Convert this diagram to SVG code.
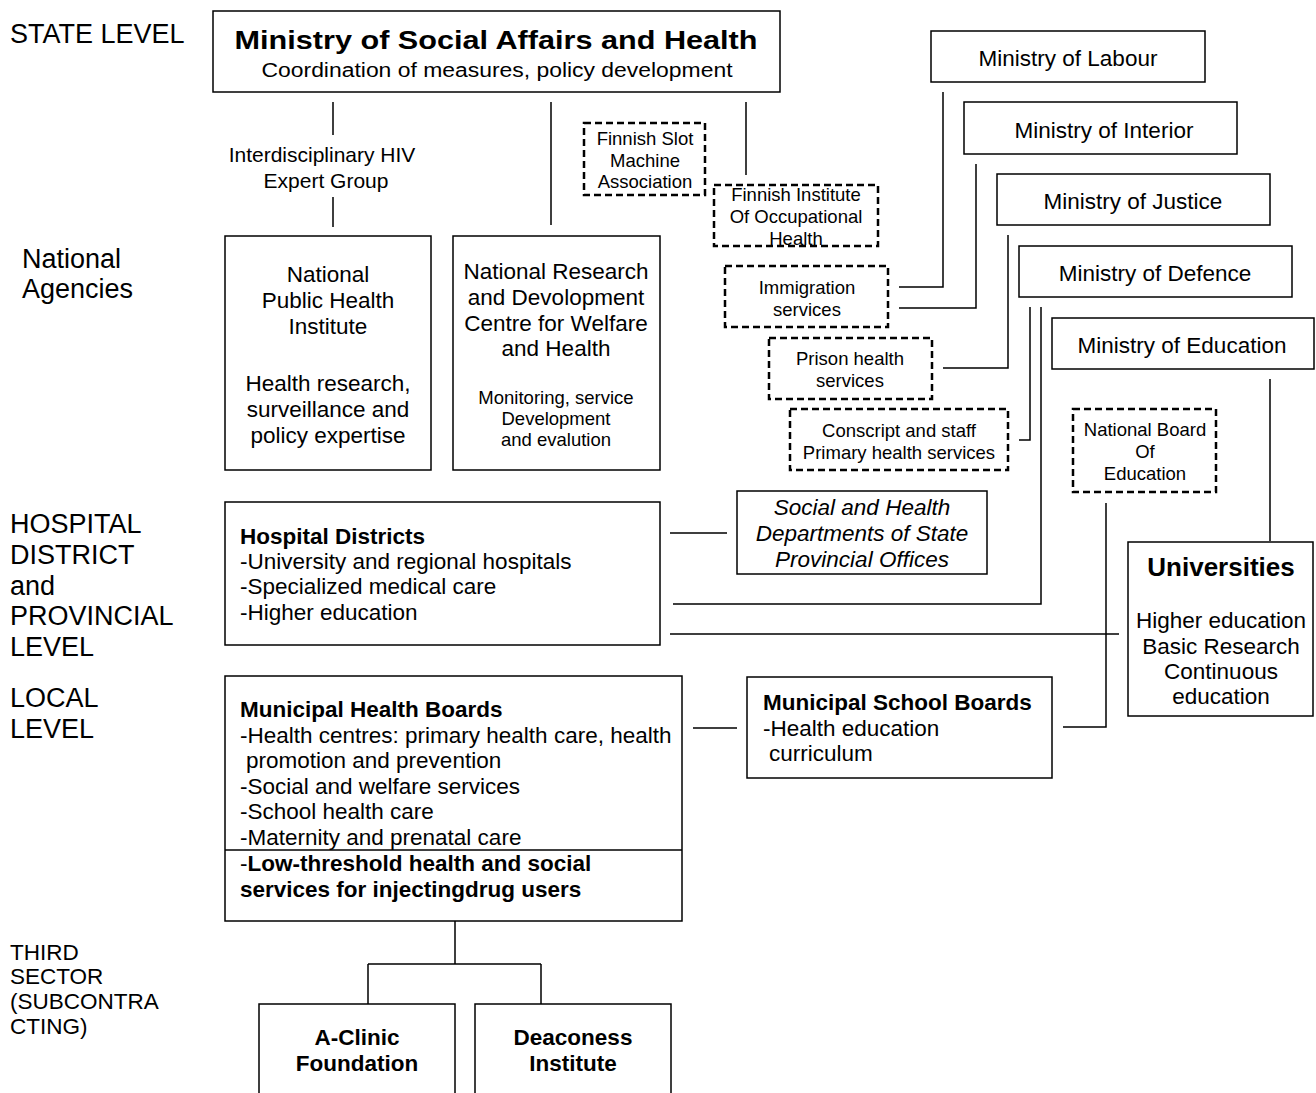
<svg xmlns="http://www.w3.org/2000/svg" width="1316" height="1093" viewBox="0 0 1316 1093">
<style>
text{font-family:"Liberation Sans",Arial,sans-serif;fill:#000}
.box{fill:#fff;stroke:#000;stroke-width:1.5}
.dash{fill:#fff;stroke:#000;stroke-width:2.5;stroke-dasharray:7 4}
.ln{fill:none;stroke:#000;stroke-width:1.5}
.c{text-anchor:middle}
.lvl{font-size:27px}
.lvs{font-size:22.5px}
.m{font-size:22.5px}
.d{font-size:18.5px}
.b{font-weight:bold}
.i{font-style:italic}
</style>
<rect width="1316" height="1093" fill="#fff"/>
<g id="levels">
<text class="lvl" x="10" y="43">STATE LEVEL</text>
<text class="lvl" x="22" y="268">National</text>
<text class="lvl" x="22" y="298">Agencies</text>
<text class="lvl" x="10" y="533">HOSPITAL</text>
<text class="lvl" x="10" y="564">DISTRICT</text>
<text class="lvl" x="10" y="595">and</text>
<text class="lvl" x="10" y="625">PROVINCIAL</text>
<text class="lvl" x="10" y="656">LEVEL</text>
<text class="lvl" x="10" y="707">LOCAL</text>
<text class="lvl" x="10" y="738">LEVEL</text>
<text class="lvs" x="10" y="960">THIRD</text>
<text class="lvs" x="10" y="984">SECTOR</text>
<text class="lvs" x="10" y="1009">(SUBCONTRA</text>
<text class="lvs" x="10" y="1034">CTING)</text>
</g>
<g id="connectors">
<path class="ln" d="M333 102V135M333 197V227M551 102V225M746 102V175"/>
<path class="ln" d="M943 92V287H899M976 164V308H899M1008 235V368H943M1030 307V440H1019M1041 307V604H673M1270 379V541M1106 503V727H1063"/>
<path class="ln" d="M670 634H1119M670 533H727M693 728H737"/>
<path class="ln" d="M455 921V964M368 964H541M368 964V1004M541 964V1004"/>
</g>
<g id="ministry-social">
<rect class="box" x="213" y="11" width="567" height="81"/>
<text class="c b" x="496" y="49" font-size="26" textLength="523" lengthAdjust="spacingAndGlyphs">Ministry of Social Affairs and Health</text>
<text class="c" x="497" y="77" font-size="20" textLength="471" lengthAdjust="spacingAndGlyphs">Coordination of measures, policy development</text>
</g>
<g id="hiv-group">
<text class="c" x="322" y="162" font-size="21">Interdisciplinary HIV</text>
<text class="c" x="326" y="188" font-size="21">Expert Group</text>
</g>
<g id="slot">
<rect class="dash" x="584" y="123" width="121" height="72"/>
<text class="c d" x="645" y="145">Finnish Slot</text>
<text class="c d" x="645" y="167">Machine</text>
<text class="c d" x="645" y="188">Association</text>
</g>
<g id="fioh">
<rect class="dash" x="714" y="185" width="164" height="61"/>
<text class="c d" x="796" y="201">Finnish Institute</text>
<text class="c d" x="796" y="223">Of Occupational</text>
<text class="c d" x="796" y="245">Health</text>
</g>
<g id="labour">
<rect class="box" x="931" y="31" width="274" height="51"/>
<text class="c m" x="1068" y="66">Ministry of Labour</text>
</g>
<g id="interior">
<rect class="box" x="964" y="102" width="273" height="52"/>
<text class="c m" x="1104" y="138">Ministry of Interior</text>
</g>
<g id="justice">
<rect class="box" x="997" y="174" width="273" height="51"/>
<text class="c m" x="1133" y="209">Ministry of Justice</text>
</g>
<g id="defence">
<rect class="box" x="1019" y="246" width="273" height="51"/>
<text class="c m" x="1155" y="281">Ministry of Defence</text>
</g>
<g id="education">
<rect class="box" x="1052" y="318" width="262" height="51"/>
<text class="c m" x="1182" y="353">Ministry of Education</text>
</g>
<g id="immigration">
<rect class="dash" x="725" y="266" width="163" height="61"/>
<text class="c d" x="807" y="294">Immigration</text>
<text class="c d" x="807" y="316">services</text>
</g>
<g id="prison">
<rect class="dash" x="769" y="338" width="163" height="61"/>
<text class="c d" x="850" y="365">Prison health</text>
<text class="c d" x="850" y="387">services</text>
</g>
<g id="conscript">
<rect class="dash" x="790" y="409" width="218" height="61"/>
<text class="c d" x="899" y="437">Conscript and staff</text>
<text class="c d" x="899" y="459">Primary health services</text>
</g>
<g id="nbe">
<rect class="dash" x="1073" y="409" width="143" height="83"/>
<text class="c d" x="1145" y="436">National Board</text>
<text class="c d" x="1145" y="458">Of</text>
<text class="c d" x="1145" y="480">Education</text>
</g>
<g id="nphi">
<rect class="box" x="225" y="236" width="206" height="234"/>
<text class="c m" x="328" y="282">National</text>
<text class="c m" x="328" y="308">Public Health</text>
<text class="c m" x="328" y="334">Institute</text>
<text class="c m" x="328" y="391">Health research,</text>
<text class="c m" x="328" y="417">surveillance and</text>
<text class="c m" x="328" y="443">policy expertise</text>
</g>
<g id="nrd">
<rect class="box" x="453" y="236" width="207" height="234"/>
<text class="c m" x="556" y="279">National Research</text>
<text class="c m" x="556" y="305">and Devolopment</text>
<text class="c m" x="556" y="331">Centre for Welfare</text>
<text class="c m" x="556" y="356">and Health</text>
<text class="c d" x="556" y="404">Monitoring, service</text>
<text class="c d" x="556" y="425">Development</text>
<text class="c d" x="556" y="446">and evalution</text>
</g>
<g id="hospital">
<rect class="box" x="225" y="502" width="435" height="143"/>
<text class="m b" x="240" y="544">Hospital Districts</text>
<text class="m" x="240" y="569">-University and regional hospitals</text>
<text class="m" x="240" y="594">-Specialized medical care</text>
<text class="m" x="240" y="620">-Higher education</text>
</g>
<g id="provincial">
<rect class="box" x="737" y="491" width="250" height="83"/>
<text class="c m i" x="862" y="515">Social and Health</text>
<text class="c m i" x="862" y="541">Departments of State</text>
<text class="c m i" x="862" y="567">Provincial Offices</text>
</g>
<g id="universities">
<rect class="box" x="1128" y="542" width="185" height="174"/>
<text class="c b" x="1221" y="576" font-size="26">Universities</text>
<text class="c m" x="1221" y="628">Higher education</text>
<text class="c m" x="1221" y="654">Basic Research</text>
<text class="c m" x="1221" y="679">Continuous</text>
<text class="c m" x="1221" y="704">education</text>
</g>
<g id="municipal-health">
<rect class="box" x="225" y="676" width="457" height="245"/>
<line class="ln" x1="225" y1="850" x2="682" y2="850"/>
<text class="m b" x="240" y="717">Municipal Health Boards</text>
<text class="m" x="240" y="743">-Health centres: primary health care, health</text>
<text class="m" x="246" y="768">promotion and prevention</text>
<text class="m" x="240" y="794">-Social and welfare services</text>
<text class="m" x="240" y="819">-School health care</text>
<text class="m" x="240" y="845">-Maternity and prenatal care</text>
<text class="m" x="240" y="871">-<tspan class="b">Low-threshold health and social</tspan></text>
<text class="m b" x="240" y="897">services for injectingdrug users</text>
</g>
<g id="municipal-school">
<rect class="box" x="747" y="677" width="305" height="101"/>
<text class="m b" x="763" y="710">Municipal School Boards</text>
<text class="m" x="763" y="736">-Health education</text>
<text class="m" x="769" y="761">curriculum</text>
</g>
<g id="a-clinic">
<rect class="box" x="259" y="1004" width="196" height="100"/>
<text class="c m b" x="357" y="1045">A-Clinic</text>
<text class="c m b" x="357" y="1071">Foundation</text>
</g>
<g id="deaconess">
<rect class="box" x="475" y="1004" width="196" height="100"/>
<text class="c m b" x="573" y="1045">Deaconess</text>
<text class="c m b" x="573" y="1071">Institute</text>
</g>
</svg>
